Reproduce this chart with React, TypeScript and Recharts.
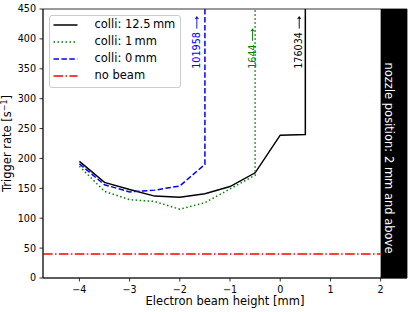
import React from 'react';
import {
  LineChart,
  Line,
  XAxis,
  YAxis,
  ReferenceLine,
  ReferenceArea,
  ReferenceDot,
  Label,
} from 'recharts';

// ---- data ----
const xBlack = [-4, -3.5, -3, -2.5, -2, -1.5, -1, -0.5, 0, 0.5, 0.5];
const yBlack = [195, 160, 148, 137, 135, 141, 153, 176, 239, 240, 176034];
const xGreen = [-4, -3.5, -3, -2.5, -2, -1.5, -1, -0.5, -0.5];
const yGreen = [187, 145, 131, 128, 115, 126, 149, 172, 1644];
const xBlue = [-4, -3.5, -3, -2.5, -2, -1.5, -1.5];
const yBlue = [191, 156, 144, 147, 154, 190, 101958];
const noBeamRate = 40;

const xTicks = [-4, -3, -2, -1, 0, 1, 2];
const yTicks = [0, 50, 100, 150, 200, 250, 300, 350, 400, 450];
const xDomain: [number, number] = [-4.725, 2.525];
const yDomain: [number, number] = [0, 450];
const nozzleStart = 2;
const annotationY = 350;

const FONT = '"DejaVu Sans", sans-serif';
const ANN_SIZE = 9.6;

const toData = (xs: number[], ys: number[]) => xs.map((x, i) => ({ x, y: ys[i] }));

const series = [
  { name: 'colli: 12.5\u2009mm', color: '#000000', dash: undefined as string | undefined, data: toData(xBlack, yBlack), dx: -6.5 },
  { name: 'colli: 1\u2009mm', color: '#008000', dash: '1.5 2.5', data: toData(xGreen, yGreen), dx: -3 },
  { name: 'colli: 0\u2009mm', color: '#0000ff', dash: '5.5 2.4', data: toData(xBlue, yBlue), dx: -8.5 },
];
const noBeam = { name: 'no beam', color: '#ff0000', dash: '9.6 2.4 1.5 2.4' };

const fmt = (v: number) => (v < 0 ? '\u2212' + Math.abs(v) : String(v));

const legendItems = [...series.map((s) => ({ name: s.name, color: s.color, dash: s.dash })), noBeam];

function LegendBox() {
  return (
    <div
      style={{
        position: 'absolute',
        left: 48.5,
        top: 14.5,
        width: 130,
        height: 71,
        border: '1px solid #cccccc',
        borderRadius: 3,
        background: 'rgba(255,255,255,0.8)',
        fontFamily: FONT,
        fontSize: 11.5,
        color: '#000',
      }}
    >
      {legendItems.map((it, i) => (
        <div
          key={it.name}
          style={{ position: 'absolute', left: 0, top: 0.5 + i * 17.1, height: 17, width: 130, whiteSpace: 'nowrap' }}
        >
          <svg width={30} height={17} style={{ position: 'absolute', left: 3.5, top: 0 }}>
            <line x1={0.5} y1={9} x2={24.5} y2={9} stroke={it.color} strokeWidth={1.5} strokeDasharray={it.dash} />
          </svg>
          <span style={{ position: 'absolute', left: 45, top: 1, lineHeight: '15px' }}>{it.name}</span>
        </div>
      ))}
    </div>
  );
}

export default function App() {
  return (
    <div style={{ position: 'absolute', left: 0, top: 0, width: 415, height: 312, background: '#fff' }}>
      <LineChart width={415} height={312} margin={{ top: 9, right: 8, bottom: 0, left: 0 }}>
        <XAxis
          type="number"
          dataKey="x"
          domain={xDomain}
          ticks={xTicks}
          allowDataOverflow
          height={34}
          tickSize={3.5}
          tickMargin={5}
          tickFormatter={fmt}
          stroke="#000"
          strokeWidth={0.8}
          tick={{ fill: '#000', fontSize: 9.6, fontFamily: FONT }}
          tickLine={{ stroke: '#000', strokeWidth: 0.8 }}
        >
          <Label
            content={(p: any) => {
              const vb = p.viewBox || { x: 43, y: 278, width: 364, height: 34 };
              return (
                <text x={vb.x + vb.width / 2} y={vb.y + 27} textAnchor="middle" fontFamily={FONT} fontSize={11.5} fill="#000">
                  Electron beam height [mm]
                </text>
              );
            }}
          />
        </XAxis>
        <YAxis
          type="number"
          domain={yDomain}
          ticks={yTicks}
          allowDataOverflow
          width={43}
          tickSize={3.5}
          tickMargin={3.5}
          stroke="#000"
          strokeWidth={0.8}
          tick={{ fill: '#000', fontSize: 9.6, fontFamily: FONT }}
          tickLine={{ stroke: '#000', strokeWidth: 0.8 }}
        >
          <Label
            content={(p: any) => {
              const vb = p.viewBox || { x: 0, y: 9, width: 43, height: 269 };
              const cx = 11;
              const cy = vb.y + vb.height / 2;
              return (
                <text
                  x={cx}
                  y={cy}
                  transform={`rotate(-90 ${cx} ${cy})`}
                  textAnchor="middle"
                  fontFamily={FONT}
                  fontSize={11.5}
                  fill="#000"
                >
                  Trigger rate [s
                  <tspan dy={-4.5} fontSize={8}>
                    {'\u22121'}
                  </tspan>
                  <tspan dy={4.5}>]</tspan>
                </text>
              );
            }}
          />
        </YAxis>

        <ReferenceLine
          segment={[
            { x: xDomain[0], y: noBeamRate },
            { x: nozzleStart, y: noBeamRate },
          ]}
          stroke={noBeam.color}
          strokeWidth={1.5}
          strokeDasharray={noBeam.dash}
          ifOverflow="visible"
        />

        {series.map((s) => (
          <Line
            key={s.name}
            data={s.data}
            dataKey="y"
            type="linear"
            stroke={s.color}
            strokeWidth={1.5}
            strokeDasharray={s.dash}
            dot={false}
            activeDot={false}
            isAnimationActive={false}
          />
        ))}

        <ReferenceArea
          x1={nozzleStart}
          x2={xDomain[1]}
          y1={yDomain[0]}
          y2={yDomain[1]}
          fill="#000"
          fillOpacity={1}
          stroke="none"
          ifOverflow="visible"
          label={(p: any) => {
            const vb = p.viewBox || { x: 380.6, y: 9, width: 26.4, height: 269 };
            const tx = vb.x + 4.5;
            const ty = vb.y + 149;
            return (
              <text
                x={tx}
                y={ty}
                transform={`rotate(90 ${tx} ${ty})`}
                textAnchor="middle"
                fontFamily={FONT}
                fontSize={11.5}
                fill="#fff"
              >
                nozzle position: 2 mm and above
              </text>
            );
          }}
        />

        <ReferenceArea
          x1={xDomain[0]}
          x2={xDomain[1]}
          y1={yDomain[0]}
          y2={yDomain[1]}
          fill="none"
          stroke="#000"
          strokeWidth={0.8}
          ifOverflow="visible"
        />

        {series.map((s) => {
          const last = s.data[s.data.length - 1];
          const label = String(last.y);
          const numLen = (label.length * 0.636 + 0.318) * ANN_SIZE;
          return (
            <ReferenceDot
              key={'ann' + s.name}
              x={last.x}
              y={annotationY}
              r={0}
              ifOverflow="visible"
              shape={(p: any) => {
                const bx = p.cx + s.dx + 3.5;
                const by = p.cy;
                const ax0 = bx + numLen + 0.5;
                const ax1 = ax0 + 12.5;
                const ay = by - 3.1;
                return (
                  <g transform={`rotate(-90 ${bx} ${by})`}>
                    <text x={bx} y={by} textAnchor="start" fontFamily={FONT} fontSize={ANN_SIZE} fill={s.color}>
                      {label}
                    </text>
                    <line x1={ax0} y1={ay} x2={ax1 - 1} y2={ay} stroke={s.color} strokeWidth={0.9} />
                    <path
                      d={`M ${ax1} ${ay} L ${ax1 - 3.2} ${ay - 2.2} L ${ax1 - 2.4} ${ay} L ${ax1 - 3.2} ${ay + 2.2} Z`}
                      fill={s.color}
                      stroke="none"
                    />
                  </g>
                );
              }}
            />
          );
        })}
      </LineChart>
      <LegendBox />
    </div>
  );
}
